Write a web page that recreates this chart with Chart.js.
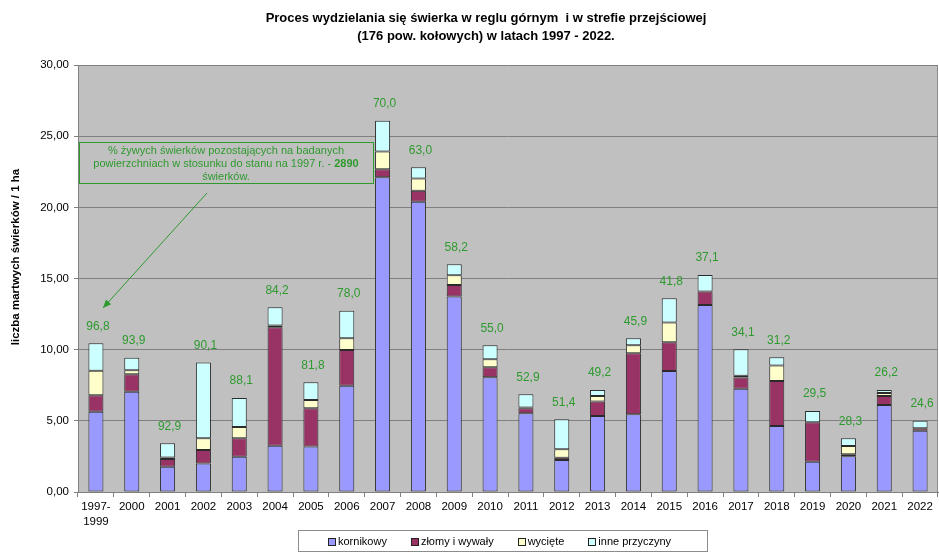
<!DOCTYPE html>
<html lang="pl">
<head>
<meta charset="utf-8">
<script src="https://cdn.jsdelivr.net/npm/chart.js@4.4.1/dist/chart.umd.min.js"></script>
<style>
  body { margin: 0; background: #fff; font-family: "Liberation Sans", Arial, sans-serif; }
  #wrap { position: relative; width: 939px; height: 555px; }
  #legend {
    position: absolute; left: 298px; top: 530px; width: 410px; height: 22px;
    border: 1px solid #8c8c8c; display: flex; align-items: center;
    padding-left: 29px; box-sizing: border-box; gap: 24px;
    font-size: 11px; color: #000;
  }
  #legend span.sw { display: inline-block; width: 6px; height: 6px; border: 1px solid #222; margin-right: 2px; vertical-align: middle; }
</style>
</head>
<body>
<div id="wrap">
  <canvas id="spruceChart" width="939" height="555"></canvas>
  <div id="legend"></div>
</div>
<script>
// dane: martwe świerki / 1 ha wg przyczyny
const years = ['1997-\n1999', '2000', '2001', '2002', '2003', '2004', '2005', '2006', '2007', '2008', '2009',
  '2010', '2011', '2012', '2013', '2014', '2015', '2016', '2017', '2018', '2019', '2020', '2021', '2022'];
const kornikowy = [5.64, 7.05, 1.78, 2.01, 2.48, 3.25, 3.19, 7.47, 22.11, 20.40, 13.73,
  8.06, 5.53, 2.25, 5.34, 5.46, 8.50, 13.14, 7.26, 4.64, 2.13, 2.51, 6.11, 4.31];
const zlomy = [1.16, 1.22, 0.54, 0.94, 1.29, 8.32, 2.69, 2.51, 0.57, 0.77, 0.82,
  0.70, 0.35, 0.16, 1.01, 4.29, 2.02, 0.94, 0.79, 3.16, 2.77, 0.14, 0.64, 0.17];
const wyciete = [1.72, 0.28, 0.10, 0.82, 0.80, 0.12, 0.59, 0.82, 1.24, 0.85, 0.68,
  0.57, 0.05, 0.59, 0.40, 0.56, 1.38, 0.00, 0.12, 1.08, 0.00, 0.58, 0.21, 0.00];
const inne = [1.93, 0.89, 1.00, 5.32, 2.03, 1.29, 1.24, 1.94, 2.17, 0.80, 0.77,
  0.98, 0.94, 2.11, 0.42, 0.49, 1.71, 1.17, 1.86, 0.58, 0.79, 0.54, 0.21, 0.53];
// % żywych świerków względem stanu z 1997 r.
const procentZywych = ['96,8', '93,9', '92,9', '90,1', '88,1', '84,2', '81,8', '78,0', '70,0', '63,0', '58,2',
  '55,0', '52,9', '51,4', '49,2', '45,9', '41,8', '37,1', '34,1', '31,2', '29,5', '28,3', '26,2', '24,6'];

const seriesNames = ['kornikowy', 'złomy i wywały', 'wycięte', 'inne przyczyny'];
const seriesColors = ['#9999ff', '#993366', '#ffffcc', '#ccffff'];
const series = [kornikowy, zlomy, wyciete, inne];

const FONT = '"Liberation Sans", Arial, sans-serif';
const GREEN = '#2e9a2e';

const chartBackground = {
  id: 'chartBackground',
  beforeDraw(chart) {
    const { ctx, chartArea: a } = chart;
    ctx.save();
    ctx.fillStyle = '#c0c0c0';
    ctx.fillRect(a.left, a.top, a.right - a.left, a.bottom - a.top);
    ctx.strokeStyle = '#8c8c8c';
    ctx.lineWidth = 1;
    ctx.beginPath();
    ctx.moveTo(a.right - 0.5, a.top);
    ctx.lineTo(a.right - 0.5, a.bottom);
    ctx.stroke();
    ctx.restore();
  }
};

// procenty nad słupkami
const totalLabels = {
  id: 'totalLabels',
  afterDatasetsDraw(chart) {
    const { ctx } = chart;
    const yScale = chart.scales.y;
    const top = chart.getDatasetMeta(chart.data.datasets.length - 1);
    ctx.save();
    ctx.font = '12px ' + FONT;
    ctx.fillStyle = GREEN;
    ctx.textAlign = 'center';
    ctx.textBaseline = 'middle';
    top.data.forEach((bar, i) => {
      const sum = chart.data.datasets.reduce((s, ds) => s + ds.data[i], 0);
      const y = yScale.getPixelForValue(sum);
      ctx.fillText(procentZywych[i], bar.x + 2, y - 17);
    });
    ctx.restore();
  }
};

// tytuł, opis osi Y i ramka z objaśnieniem
const decorations = {
  id: 'decorations',
  afterDraw(chart) {
    const { ctx } = chart;
    ctx.save();
    ctx.fillStyle = '#000';
    ctx.textAlign = 'center';
    ctx.textBaseline = 'middle';
    ctx.font = 'bold 13px ' + FONT;
    ctx.fillText('Proces wydzielania się świerka w reglu górnym  i w strefie przejściowej', 486, 18);
    ctx.fillText('(176 pow. kołowych) w latach 1997 - 2022.', 486, 36);

    ctx.save();
    ctx.translate(16, 257);
    ctx.rotate(-Math.PI / 2);
    ctx.font = 'bold 11.5px ' + FONT;
    ctx.fillText('liczba martwych świerków / 1 ha', 0, 0);
    ctx.restore();

    // ramka z opisem
    ctx.strokeStyle = GREEN;
    ctx.lineWidth = 1;
    ctx.strokeRect(79.5, 142.5, 294, 41);
    ctx.fillStyle = GREEN;
    ctx.font = '11px ' + FONT;
    ctx.fillText('% żywych świerków pozostających na badanych', 226, 151);
    const l2a = 'powierzchniach w stosunku do stanu na 1997 r. - ';
    const l2b = '2890';
    const wA = ctx.measureText(l2a).width;
    ctx.font = 'bold 11px ' + FONT;
    const wB = ctx.measureText(l2b).width;
    const x0 = 226 - (wA + wB) / 2;
    ctx.textAlign = 'left';
    ctx.font = '11px ' + FONT;
    ctx.fillText(l2a, x0, 164);
    ctx.font = 'bold 11px ' + FONT;
    ctx.fillText(l2b, x0 + wA, 164);
    ctx.textAlign = 'center';
    ctx.font = '11px ' + FONT;
    ctx.fillText('świerków.', 226, 177);

    // strzałka do pierwszego słupka
    const x1 = 207, y1 = 193, x2 = 103, y2 = 308;
    ctx.beginPath();
    ctx.moveTo(x1, y1);
    ctx.lineTo(x2, y2);
    ctx.stroke();
    const ang = Math.atan2(y2 - y1, x2 - x1);
    ctx.beginPath();
    ctx.moveTo(x2, y2);
    ctx.lineTo(x2 - 9 * Math.cos(ang - 0.4), y2 - 9 * Math.sin(ang - 0.4));
    ctx.lineTo(x2 - 9 * Math.cos(ang + 0.4), y2 - 9 * Math.sin(ang + 0.4));
    ctx.closePath();
    ctx.fill();
    ctx.restore();
  }
};

const renderSpruceChart = () => {
  return new Chart(document.getElementById('spruceChart'), {
    type: 'bar',
    data: {
      labels: years.map(l => l.split('\n')),
      datasets: series.map((s, i) => ({
        label: seriesNames[i],
        data: s,
        backgroundColor: seriesColors[i],
        borderColor: '#2b2b2b',
        borderWidth: 1,
        borderSkipped: false,
        categoryPercentage: 1,
        barPercentage: 0.42
      }))
    },
    options: {
      responsive: false,
      animation: false,
      layout: { padding: { top: 65, right: 1, left: 0, bottom: 0 } },
      plugins: {
        legend: { display: false },
        title: { display: false },
        tooltip: { enabled: false }
      },
      scales: {
        x: {
          stacked: true,
          afterFit: (s) => { s.height = 63; },
          grid: { offset: true, drawOnChartArea: false, tickLength: 5, color: '#808080' },
          border: { color: '#808080' },
          ticks: { color: '#000', padding: 2, maxRotation: 0, autoSkip: false,
            font: { family: FONT, size: 11.5, lineHeight: 1.3 } }
        },
        y: {
          stacked: true,
          min: 0,
          max: 30,
          afterFit: (s) => { s.width = 78; },
          grid: { color: '#808080', tickLength: 4 },
          border: { color: '#808080' },
          ticks: { stepSize: 5, color: '#000', padding: 5,
            font: { family: FONT, size: 11.5 },
            callback: (v) => v.toFixed(2).replace('.', ',') }
        }
      }
    },
    plugins: [chartBackground, totalLabels, decorations]
  });
};

const renderLegend = () => {
  const box = document.getElementById('legend');
  seriesNames.forEach((name, i) => {
    const item = document.createElement('div');
    item.innerHTML = '<span class="sw" style="background:' + seriesColors[i] + '"></span>' + name;
    box.appendChild(item);
  });
};

renderSpruceChart();
renderLegend();
</script>
</body>
</html>
